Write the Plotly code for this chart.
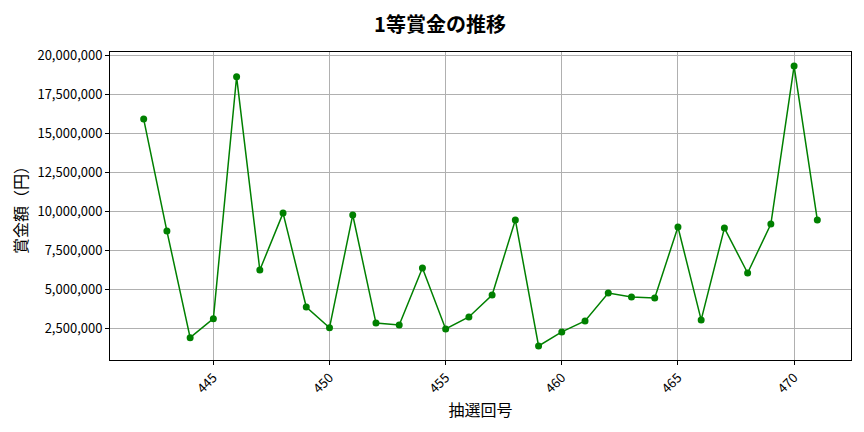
import plotly.graph_objects as go

# 抽選回号と1等賞金(円)
draws = list(range(442, 472))
prize = [15940000, 8760000, 1920000, 3140000, 18650000, 6260000, 9910000, 3890000,
         2560000, 9790000, 2860000, 2730000, 6390000, 2480000, 3250000, 4660000,
         9470000, 1390000, 2290000, 2990000, 4790000, 4530000, 4470000, 9020000,
         3060000, 8950000, 6070000, 9210000, 19340000, 9470000]

y_ticks = [2500000, 5000000, 7500000, 10000000, 12500000, 15000000, 17500000, 20000000]
x_ticks = [445, 450, 455, 460, 465, 470]

font_name = "Noto Sans CJK JP"

fig = go.Figure()
fig.add_trace(go.Scatter(
    x=draws, y=prize, mode='lines+markers',
    line=dict(color='green', width=1.5),
    marker=dict(color='green', size=7),
    showlegend=False,
))

fig.update_layout(
    width=864, height=432,
    margin=dict(l=102, r=21, t=44, b=80),
    paper_bgcolor='white', plot_bgcolor='white',
    font=dict(family=font_name, color='black', size=13),
    title=dict(text='<b>1等賞金の推移</b>', x=0.5, xanchor='center', y=0.96, yanchor='middle',
               font=dict(size=20, family=font_name)),
)
fig.update_xaxes(
    range=[440.55, 472.45], tickvals=x_ticks, tickangle=-45,
    showgrid=True, gridcolor='#b0b0b0', gridwidth=1,
    showline=True, linecolor='black', linewidth=1, mirror=True,
    ticks='outside', ticklen=4, tickcolor='black', zeroline=False,
    automargin=True,
    title=dict(text='抽選回号', font=dict(size=16), standoff=4),
)
fig.update_yaxes(
    range=[490000, 20240000], tickvals=y_ticks, tickformat=',d',
    showgrid=True, gridcolor='#b0b0b0', gridwidth=1,
    showline=True, linecolor='black', linewidth=1, mirror=True,
    ticks='outside', ticklen=4, tickcolor='black', zeroline=False,
    automargin=False,
    title=dict(text='賞金額（円）', font=dict(size=16)),
)

fig.write_html("out.html")
